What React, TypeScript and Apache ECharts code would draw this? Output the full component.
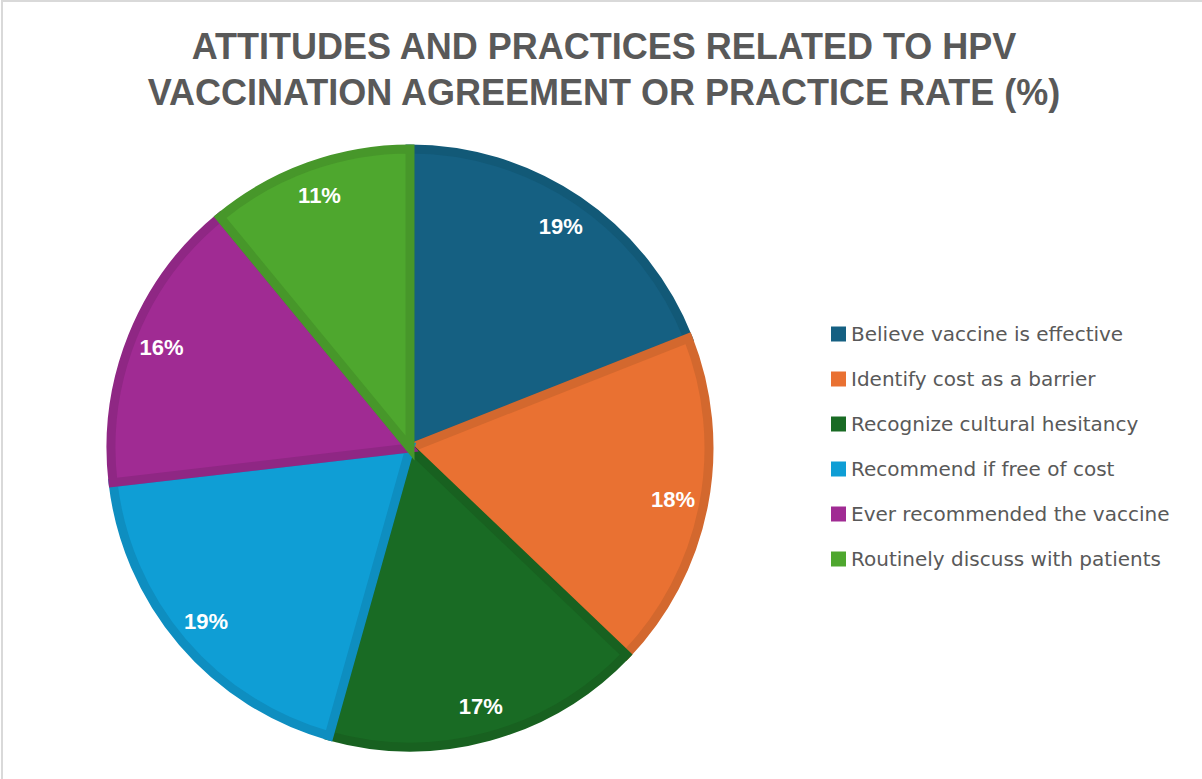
import React, { useEffect, useRef } from "react";
import * as echarts from "echarts";

const titleLines = [
  "ATTITUDES AND PRACTICES RELATED TO HPV",
  "VACCINATION AGREEMENT OR PRACTICE RATE (%)",
];
const categories = [
  "Believe vaccine is effective",
  "Identify cost as a barrier",
  "Recognize cultural hesitancy",
  "Recommend if free of cost",
  "Ever recommended the vaccine",
  "Routinely discuss with patients",
];
const rates = [85, 81, 77, 84, 71, 49];
const fillColors = ["#156082", "#E97132", "#196B24", "#0F9ED5", "#A02B93", "#4EA72E"];
const edgeColors = ["#125977", "#D3682E", "#186120", "#0E8EC0", "#8F2784", "#47972A"];

export default function App() {
  const ref = useRef<HTMLDivElement>(null);
  useEffect(() => {
    document.body.style.margin = "0";
    const chart = echarts.init(ref.current!, undefined, { renderer: "svg" });
    const font = "Liberation Sans, Arial, sans-serif";
    const mainData = categories.map((name, i) => ({
      name,
      value: rates[i],
      itemStyle: { color: fillColors[i], borderColor: edgeColors[i], borderWidth: 9, borderJoin: "miter" },
    }));
    const labelData = categories.map((name, i) => ({ name, value: rates[i] }));
    chart.setOption({
      animation: false,
      backgroundColor: "#ffffff",
      title: {
        text: titleLines.join("\n"),
        left: 604,
        textAlign: "center",
        top: 23,
        padding: 0,
        textStyle: {
          fontFamily: font,
          fontSize: 36,
          fontWeight: "bold",
          color: "#595959",
          lineHeight: 46,
        },
      },
      legend: {
        orient: "vertical",
        left: 831,
        top: 324,
        padding: 0,
        itemWidth: 15,
        itemHeight: 15,
        itemGap: 25,
        icon: "rect",
        data: categories,
        itemStyle: { borderWidth: 0 },
        textStyle: { fontFamily: "DejaVu Sans, sans-serif", fontSize: 20, color: "#595959", lineHeight: 20, padding: [0, 0, 0, 0] },
        selectedMode: false,
      },
      graphic: [
        {
          type: "rect",
          shape: { x: 2, y: 1, width: 1400, height: 1000 },
          style: { fill: "none", stroke: "#D9D9D9", lineWidth: 2 },
          silent: true,
        },
      ],
      series: [
        {
          type: "pie",
          center: [410, 448],
          radius: [0, 299],
          startAngle: 90,
          clockwise: true,
          data: mainData,
          label: { show: false },
          labelLine: { show: false },
          emphasis: { disabled: true },
          silent: true,
        },
        {
          type: "pie",
          center: [410, 448],
          radius: [229, 301],
          startAngle: 90,
          clockwise: true,
          data: labelData,
          itemStyle: { color: "rgba(0,0,0,0)", borderWidth: 0 },
          label: {
            show: true,
            position: "inside",
            rotate: 0,
            formatter: (p: any) => Math.round(p.percent) + "%",
            fontFamily: font,
            fontSize: 22,
            fontWeight: "bold",
            color: "#ffffff",
          },
          labelLine: { show: false },
          emphasis: { disabled: true },
          silent: true,
        },
      ],
    });
    return () => chart.dispose();
  }, []);
  return <div ref={ref} style={{ width: 1202, height: 779 }} />;
}
